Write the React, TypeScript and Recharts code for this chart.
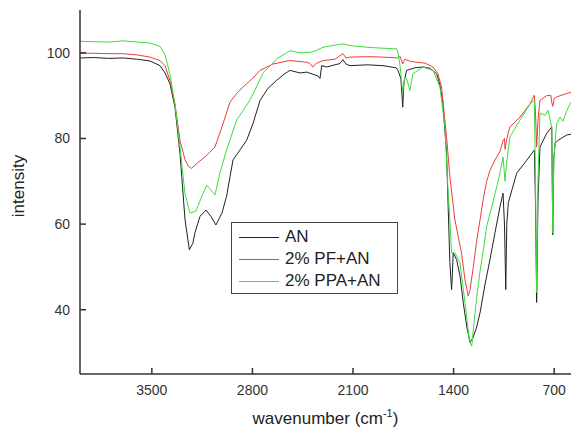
import React from 'react';
import { LineChart, Line, XAxis, YAxis, Legend } from 'recharts';

// [wavenumber, intensity] pairs
const AN: [number, number][] = [
  [4000, 98.8], [3900, 98.9], [3800, 98.7], [3700, 98.8], [3600, 98.5], [3513, 98.1],
  [3443, 97.0], [3408, 95.3], [3374, 92.8], [3339, 87.3], [3304, 76.5], [3269, 61.0],
  [3239, 54.0], [3215, 55.5], [3200, 58.0], [3165, 61.8], [3123, 63.3], [3089, 61.8],
  [3054, 59.8], [3012, 62.6], [2980, 66.5], [2956, 71.1], [2935, 75.0], [2887, 77.3],
  [2840, 79.6], [2796, 83.5], [2747, 88.9], [2692, 91.7], [2631, 93.6], [2580, 95.0],
  [2539, 95.9], [2469, 95.3], [2422, 95.5], [2379, 95.0], [2344, 94.6], [2330, 94.0],
  [2318, 97.0], [2283, 96.7], [2191, 97.5], [2170, 98.4], [2149, 97.4], [2121, 97.0],
  [2000, 97.2], [1891, 97.0], [1800, 96.5], [1787, 95.9], [1767, 94.0], [1754, 87.3],
  [1746, 93.0], [1727, 95.9], [1670, 96.5], [1613, 96.7], [1565, 96.4], [1518, 95.1],
  [1495, 92.5], [1475, 88.2], [1449, 76.6], [1438, 64.1], [1426, 51.0], [1414, 44.7],
  [1409, 48.0], [1403, 53.3], [1379, 51.7], [1356, 48.0], [1333, 41.7], [1308, 36.0],
  [1286, 32.4], [1265, 33.5], [1239, 36.0], [1216, 39.3], [1181, 46.0], [1147, 51.7],
  [1112, 58.0], [1077, 64.1], [1056, 67.2], [1046, 60.0], [1037, 44.7], [1030, 60.0],
  [1019, 65.0], [961, 71.9], [891, 74.9], [856, 76.5], [838, 77.3], [830, 65.0],
  [822, 41.7], [813, 65.0], [799, 78.0], [752, 81.2], [717, 82.7], [710, 57.5],
  [703, 75.0], [694, 78.9], [671, 79.6], [613, 80.8], [583, 81.0],
];

const PF_AN: [number, number][] = [
  [4000, 99.9], [3900, 99.9], [3800, 99.8], [3700, 99.8], [3600, 99.5], [3513, 99.0],
  [3443, 98.2], [3408, 97.0], [3374, 93.5], [3339, 88.0], [3304, 79.5], [3269, 75.0],
  [3245, 73.5], [3223, 73.0], [3186, 74.2], [3130, 75.7], [3061, 78.0], [3012, 82.7],
  [2956, 88.5], [2910, 90.5], [2866, 92.0], [2800, 94.0], [2747, 95.9], [2657, 97.4],
  [2539, 98.2], [2422, 97.8], [2400, 97.5], [2379, 96.7], [2358, 97.5], [2309, 98.2],
  [2226, 98.5], [2170, 99.8], [2149, 98.8], [2121, 99.0], [2000, 99.1], [1891, 99.0],
  [1787, 98.8], [1773, 99.2], [1754, 97.4], [1740, 98.5], [1700, 98.0], [1658, 97.8],
  [1600, 97.6], [1544, 96.7], [1510, 95.2], [1484, 92.0], [1449, 80.4], [1426, 71.1],
  [1391, 61.0], [1345, 53.3], [1321, 47.0], [1298, 43.2], [1286, 44.5], [1263, 50.0],
  [1240, 56.0], [1216, 61.0], [1193, 66.0], [1170, 70.0], [1147, 72.5], [1112, 75.0],
  [1077, 77.0], [1056, 79.5], [1046, 80.0], [1042, 77.5], [1035, 79.0], [1019, 81.5],
  [1008, 82.7], [938, 85.0], [868, 88.1], [838, 90.1], [830, 86.0], [822, 78.0],
  [813, 84.0], [799, 88.9], [752, 90.0], [724, 90.1], [717, 88.5], [710, 87.5],
  [700, 89.3], [683, 89.7], [613, 90.5], [583, 90.8],
];

const PPA_AN: [number, number][] = [
  [4000, 102.7], [3900, 102.6], [3800, 102.5], [3700, 102.8], [3600, 102.5], [3513, 102.3],
  [3443, 101.5], [3408, 99.5], [3374, 95.0], [3339, 88.0], [3304, 78.0], [3269, 67.0],
  [3235, 62.6], [3193, 63.0], [3158, 66.0], [3119, 69.1], [3089, 68.0], [3061, 66.8],
  [3026, 72.0], [2980, 77.3], [2910, 84.3], [2818, 88.9], [2727, 95.2], [2631, 98.6],
  [2539, 100.5], [2470, 100.0], [2400, 100.1], [2358, 100.5], [2309, 101.3], [2170, 102.1],
  [2121, 101.7], [2003, 101.3], [1850, 101.0], [1794, 100.9], [1784, 99.5], [1773, 97.0],
  [1754, 90.8], [1740, 94.3], [1727, 94.0], [1704, 91.2], [1684, 95.1], [1613, 96.7],
  [1544, 95.9], [1495, 92.0], [1460, 82.7], [1440, 68.7], [1426, 61.0], [1414, 53.3],
  [1391, 53.3], [1356, 51.0], [1321, 41.7], [1291, 33.1], [1274, 31.5], [1258, 37.0],
  [1239, 43.0], [1216, 49.0], [1193, 54.0], [1170, 59.4], [1135, 64.0], [1100, 68.7],
  [1077, 72.0], [1056, 75.7], [1042, 70.0], [1032, 74.0], [1008, 80.4], [938, 84.3],
  [868, 88.1], [838, 88.9], [830, 70.0], [822, 44.0], [813, 70.0], [799, 85.9],
  [764, 85.4], [743, 86.6], [717, 82.7], [710, 57.9], [703, 75.0], [683, 83.5],
  [660, 85.0], [639, 84.0], [618, 86.0], [590, 88.1], [583, 88.5],
];

const wavenumberTicks = [3500, 2800, 2100, 1400, 700];
const intensityTicks = [40, 60, 80, 100];

const FONT = '"Liberation Sans", Arial, sans-serif';
const AXIS = '#333';
const X_DOMAIN: [number, number] = [583, 4000];

const series = [
  { name: 'AN', points: AN, color: '#222222' },
  { name: '2% PF+AN', points: PF_AN, color: '#ee3b3b' },
  { name: '2% PPA+AN', points: PPA_AN, color: '#3ddc3d' },
];

const toRows = (pts: [number, number][]) => pts.map(([wn, v]) => ({ wn, v }));

const XTitle = ({ viewBox }: any) => (
  <text
    x={viewBox.x + viewBox.width / 2}
    y={viewBox.y + 50}
    textAnchor="middle"
    fontSize={17}
    fontFamily={FONT}
    fill="#222"
  >
    wavenumber (cm
    <tspan dy={-7} fontSize={11}>-1</tspan>
    <tspan dy={7}>)</tspan>
  </text>
);

const YTitle = ({ viewBox }: any) => {
  const x = 18;
  const y = viewBox.y + viewBox.height / 2 - 6;
  return (
    <text
      x={x}
      y={y}
      transform={`rotate(-90, ${x}, ${y})`}
      textAnchor="middle"
      dominantBaseline="central"
      fontSize={17}
      fontFamily={FONT}
      fill="#222"
    >
      intensity
    </text>
  );
};

const LegendBox = () => (
  <div
    style={{
      border: '1px solid #444',
      background: '#fff',
      boxSizing: 'border-box',
      width: 167,
      height: 72,
      padding: '3px 0 0 7px',
      fontFamily: FONT,
      fontSize: 17,
      color: '#222',
    }}
  >
    {series.map((s) => (
      <div key={s.name} style={{ display: 'flex', alignItems: 'center', height: 22 }}>
        <span style={{ width: 40, height: 0, borderTop: `1px solid ${s.color}`, marginRight: 6 }} />
        <span style={{ lineHeight: '22px' }}>{s.name}</span>
      </div>
    ))}
  </div>
);

export default function App() {
  return (
    <div style={{ position: 'absolute', left: 0, top: 0, width: 571, height: 431, overflow: 'hidden', background: '#fff' }}>
      <LineChart width={571} height={431} margin={{ top: 10, right: 0, bottom: 0, left: 0 }}>
        <XAxis
          type="number"
          dataKey="wn"
          domain={X_DOMAIN}
          reversed
          allowDataOverflow
          ticks={wavenumberTicks}
          interval={0}
          height={57}
          tickSize={-6}
          tickMargin={17}
          tick={{ fill: AXIS, fontSize: 14, fontFamily: FONT }}
          tickLine={{ stroke: AXIS, strokeWidth: 1.5 }}
          axisLine={{ stroke: AXIS, strokeWidth: 1.5 }}
          label={(props: any) => <XTitle {...props} />}
        />
        <XAxis
          xAxisId="top"
          orientation="top"
          type="number"
          dataKey="wn"
          domain={X_DOMAIN}
          reversed
          allowDataOverflow
          height={0}
          tick={false}
          tickLine={false}
          axisLine={{ stroke: AXIS, strokeWidth: 1.5 }}
        />
        <YAxis
          type="number"
          domain={[25, 110]}
          allowDataOverflow
          ticks={intensityTicks}
          interval={0}
          width={80}
          tickSize={-6}
          tickMargin={16}
          tick={{ fill: AXIS, fontSize: 14, fontFamily: FONT }}
          tickLine={{ stroke: AXIS, strokeWidth: 1.5 }}
          axisLine={{ stroke: AXIS, strokeWidth: 1.5 }}
          label={(props: any) => <YTitle {...props} />}
        />
        <Legend
          layout="horizontal"
          verticalAlign="middle"
          align="center"
          content={() => <LegendBox />}
          wrapperStyle={{ left: 231, top: 222, width: 167, height: 72 }}
        />
        {series.map((s) => (
          <Line
            key={s.name}
            data={toRows(s.points)}
            dataKey="v"
            name={s.name}
            type="linear"
            stroke={s.color}
            strokeWidth={1}
            dot={false}
            activeDot={false}
            isAnimationActive={false}
          />
        ))}
      </LineChart>
    </div>
  );
}
